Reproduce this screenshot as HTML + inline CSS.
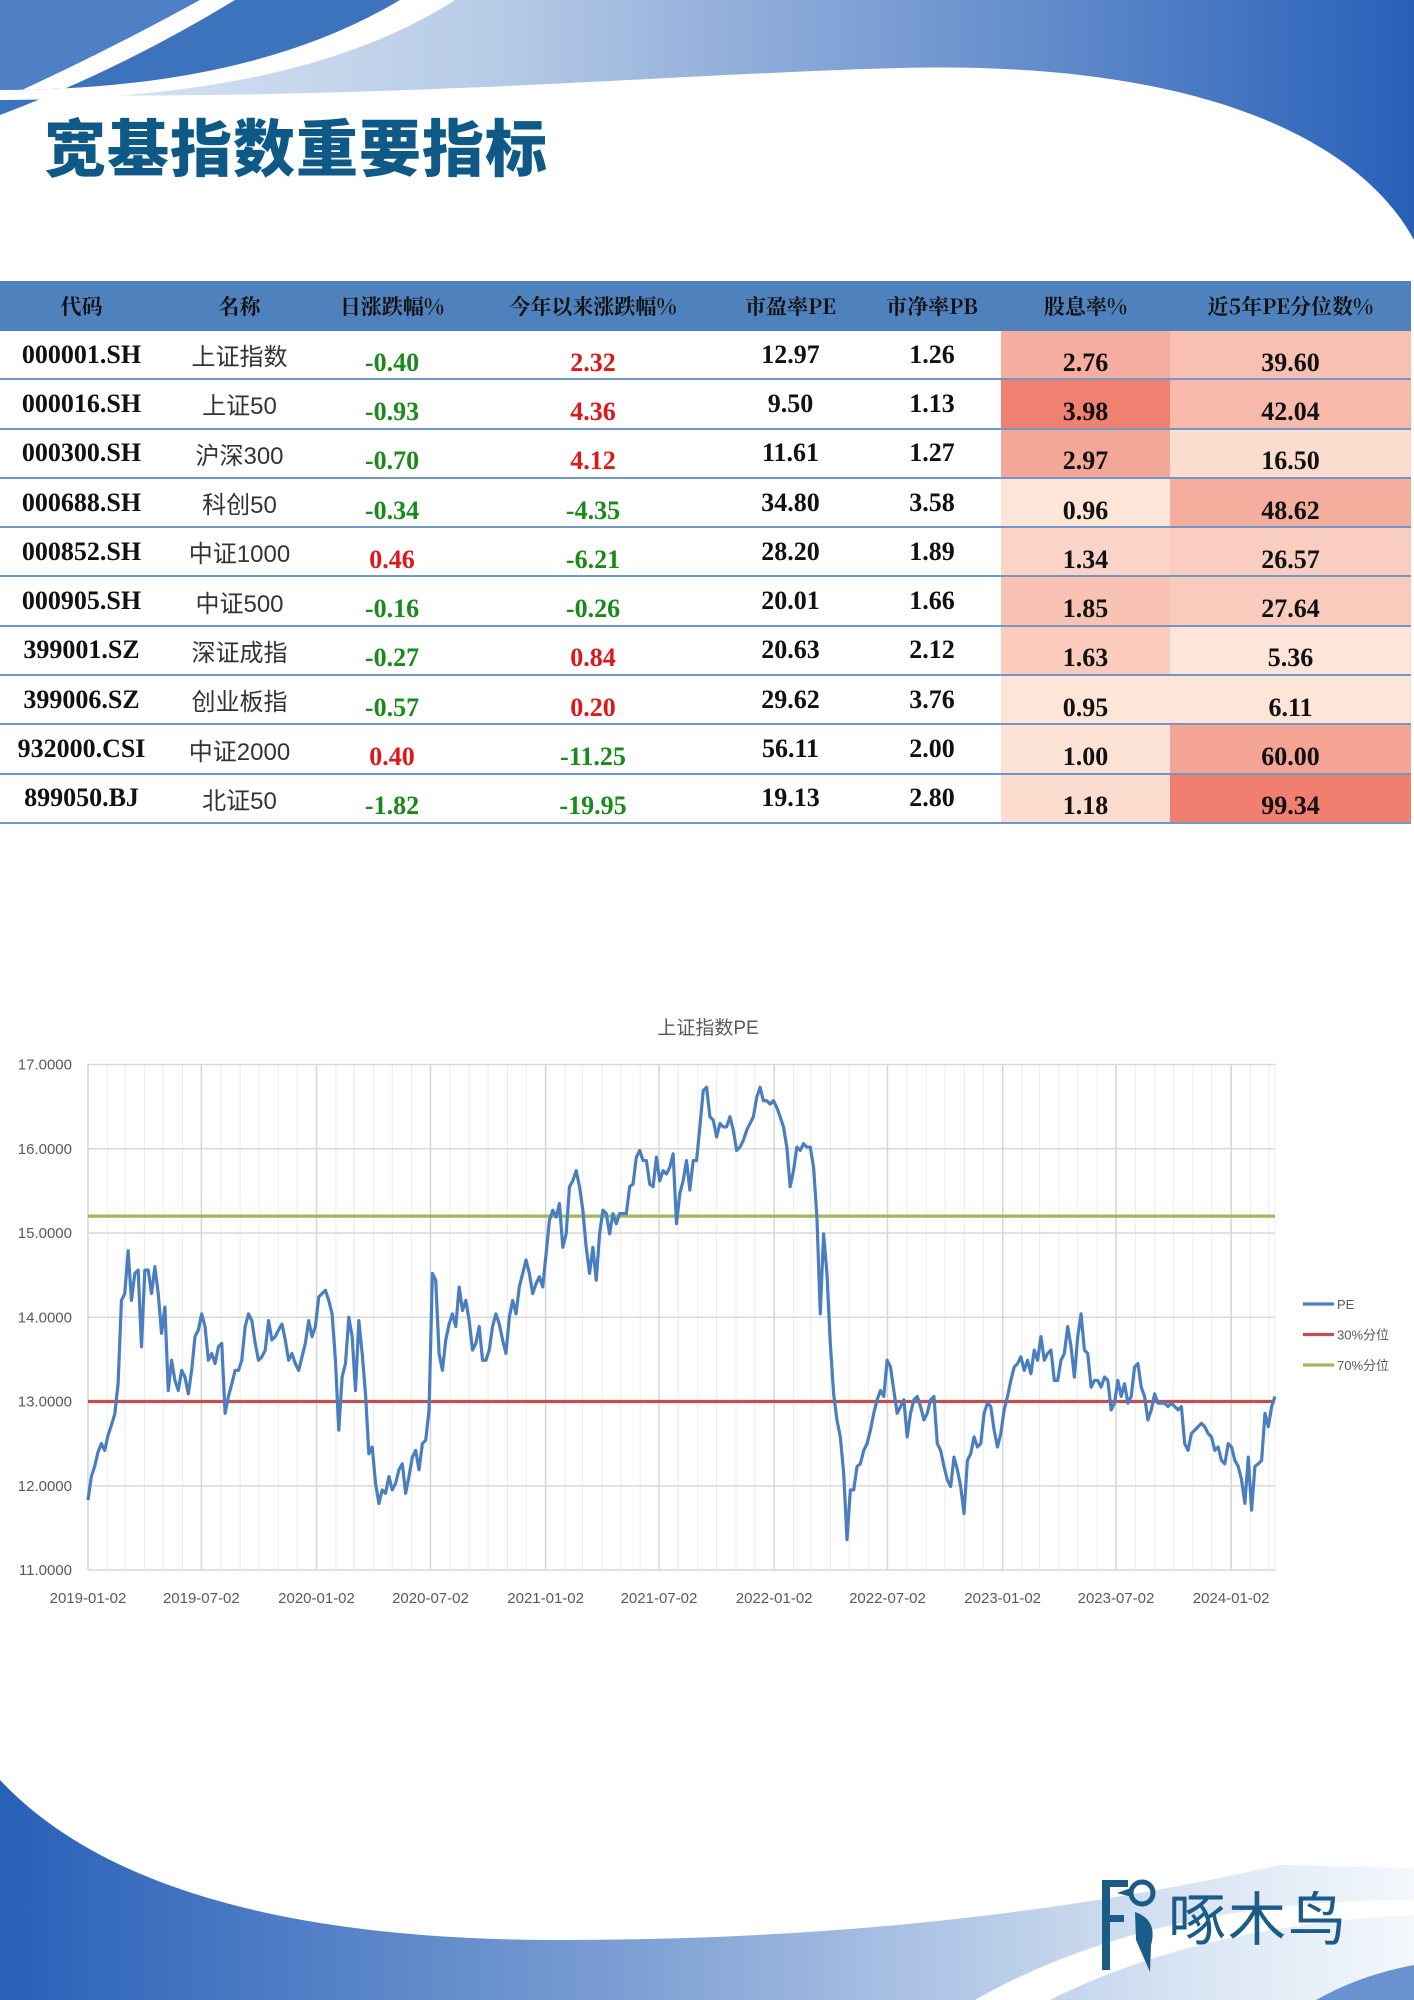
<!DOCTYPE html>
<html><head><meta charset="utf-8">
<style>
html,body{margin:0;padding:0;}
body{width:1414px;height:2000px;position:relative;overflow:hidden;background:#fff;font-family:"Liberation Sans","Noto Sans CJK SC",sans-serif;}
#bg{position:absolute;left:0;top:0;}
#title{position:absolute;left:44px;top:104px;font-family:"Noto Sans CJK SC",sans-serif;font-weight:900;font-size:62px;color:#0f5987;letter-spacing:1px;line-height:80px;white-space:nowrap;}
#tbl{position:absolute;left:0;top:281px;border-collapse:collapse;table-layout:fixed;width:1411px;}
#tbl th{background:#4f81bd;height:50px;padding:0;font-family:"Noto Serif CJK SC",serif;font-weight:700;font-size:21px;color:#111;text-align:center;}
#tbl td{height:47.3px;padding:0;text-align:center;border-bottom:2px solid #7196c8;font-family:"Liberation Serif",serif;font-weight:700;font-size:26px;color:#111;vertical-align:middle;}
#tbl td.nm{font-family:"Liberation Sans","Noto Sans CJK SC",sans-serif;font-weight:400;font-size:24px;color:#333;}
#tbl td.lo{padding-top:16px;height:31.3px;}
#tbl td.g{color:#1a8a1a;} #tbl td.r{color:#e0161b;}
#chart{position:absolute;left:0;top:0;}
#logo-text{position:absolute;left:1168px;top:1880px;font-family:"Noto Sans CJK SC",sans-serif;font-size:58px;color:#1b5b87;line-height:70px;letter-spacing:2px;}
</style></head>
<body>
<svg id="bg" width="1414" height="2000">
<defs>
<linearGradient id="tg" x1="0" x2="1" y1="0" y2="0">
<stop offset="0" stop-color="#dfe8f5"/><stop offset="0.35" stop-color="#b7cbe7"/><stop offset="1" stop-color="#2860b8"/></linearGradient>
<linearGradient id="bgr" x1="0" x2="1" y1="0" y2="0">
<stop offset="0" stop-color="#2860b8"/><stop offset="0.45" stop-color="#7da0d4"/><stop offset="0.85" stop-color="#dbe6f4"/><stop offset="1" stop-color="#f4f8fc"/></linearGradient>
</defs>
<path d="M0,0 H1414 V240 C1360,140 1200,60 900,68 C650,75 400,100 0,95 Z" fill="url(#tg)"/>
<path d="M0,0 H200 Q100,60 0,110 Z" fill="#4f7fc4"/>
<path d="M200,0 H235 Q120,70 0,115 V100 Q100,55 200,0 Z" fill="#fff"/>
<path d="M235,0 H400 Q250,90 0,90 V115 Q120,70 235,0 Z" fill="#3d73bd"/>
<path d="M400,0 H455 Q300,100 0,100 V90 Q250,90 400,0 Z" fill="#fff"/>
<path d="M0,1780 Q150,1940 560,1940 Q950,1940 1280,1865 L1414,1868 V2000 H0 Z" fill="url(#bgr)"/>
<path d="M975,2000 Q1150,1900 1414,1900 V1915 Q1200,1925 1050,2000 Z" fill="#fff"/>
<path d="M1316,2000 Q1360,1975 1414,1965 V2000 Z" fill="#6a92cf"/>
<g fill="#1b5b87">
<rect x="1102" y="1880" width="8" height="90"/>
<rect x="1102" y="1880" width="26" height="7"/>
<rect x="1102" y="1915" width="22" height="7"/>
<circle cx="1142" cy="1893" r="11" fill="none" stroke="#1b5b87" stroke-width="5"/>
<path d="M1131,1888 L1117,1893 L1132,1897 Z"/>
<path d="M1135,1912 Q1158,1920 1151,1945 L1150,1972 L1136,1940 Z"/>
</g>
</svg>
<div id="title">宽基指数重要指标</div>

<table id="tbl">
<colgroup><col style="width:163px"><col style="width:153px"><col style="width:152px"><col style="width:250px"><col style="width:145px"><col style="width:138px"><col style="width:169px"><col style="width:241px"></colgroup>
<thead><tr>
<th>代码</th><th>名称</th><th>日涨跌幅%</th><th>今年以来涨跌幅%</th><th>市盈率PE</th><th>市净率PB</th><th>股息率%</th><th>近5年PE分位数%</th>
</tr></thead>
<tbody>
<tr><td>000001.SH</td><td class="nm">上证指数</td><td class="lo g">-0.40</td><td class="lo r">2.32</td><td>12.97</td><td>1.26</td><td class="lo" style="background:#f4ad9e">2.76</td><td class="lo" style="background:#f8c0b1">39.60</td></tr>
<tr><td>000016.SH</td><td class="nm">上证50</td><td class="lo g">-0.93</td><td class="lo r">4.36</td><td>9.50</td><td>1.13</td><td class="lo" style="background:#f08171">3.98</td><td class="lo" style="background:#f7b9a9">42.04</td></tr>
<tr><td>000300.SH</td><td class="nm">沪深300</td><td class="lo g">-0.70</td><td class="lo r">4.12</td><td>11.61</td><td>1.27</td><td class="lo" style="background:#f3a796">2.97</td><td class="lo" style="background:#fcdccf">16.50</td></tr>
<tr><td>000688.SH</td><td class="nm">科创50</td><td class="lo g">-0.34</td><td class="lo g">-4.35</td><td>34.80</td><td>3.58</td><td class="lo" style="background:#fde5d8">0.96</td><td class="lo" style="background:#f5ae9d">48.62</td></tr>
<tr><td>000852.SH</td><td class="nm">中证1000</td><td class="lo r">0.46</td><td class="lo g">-6.21</td><td>28.20</td><td>1.89</td><td class="lo" style="background:#fbd4c7">1.34</td><td class="lo" style="background:#f9cdbf">26.57</td></tr>
<tr><td>000905.SH</td><td class="nm">中证500</td><td class="lo g">-0.16</td><td class="lo g">-0.26</td><td>20.01</td><td>1.66</td><td class="lo" style="background:#f9c3b4">1.85</td><td class="lo" style="background:#f9cbbd">27.64</td></tr>
<tr><td>399001.SZ</td><td class="nm">深证成指</td><td class="lo g">-0.27</td><td class="lo r">0.84</td><td>20.63</td><td>2.12</td><td class="lo" style="background:#fbcbbc">1.63</td><td class="lo" style="background:#fde6d9">5.36</td></tr>
<tr><td>399006.SZ</td><td class="nm">创业板指</td><td class="lo g">-0.57</td><td class="lo r">0.20</td><td>29.62</td><td>3.76</td><td class="lo" style="background:#fde5d8">0.95</td><td class="lo" style="background:#fde5d8">6.11</td></tr>
<tr><td>932000.CSI</td><td class="nm">中证2000</td><td class="lo r">0.40</td><td class="lo g">-11.25</td><td>56.11</td><td>2.00</td><td class="lo" style="background:#fde3d6">1.00</td><td class="lo" style="background:#f4a494">60.00</td></tr>
<tr><td>899050.BJ</td><td class="nm">北证50</td><td class="lo g">-1.82</td><td class="lo g">-19.95</td><td>19.13</td><td>2.80</td><td class="lo" style="background:#fcdccf">1.18</td><td class="lo" style="background:#f07f6f">99.34</td></tr>
</tbody></table>

<svg id="chart" width="1414" height="2000"></svg>
<div id="logo-text">啄木鸟</div>

<script>
const startDate = '2019-01-02';
const endDate = '2024-03-12';
const peValues = [
11.83,12.11,12.23,12.40,12.50,12.42,12.60,12.72,12.85,13.21,14.20,14.28,14.79,14.20,14.52,14.56,13.65,14.56,14.56,14.28,14.60,14.28,13.81,14.12,13.13,13.49,13.25,13.13,13.37,13.29,13.09,13.37,13.77,13.85,14.04,13.89,13.49,13.57,13.45,13.65,13.69,12.86,13.06,13.21,13.37,13.37,13.49,13.89,14.04,13.96,13.69,13.49,13.53,13.61,13.96,13.73,13.77,13.85,13.92,13.73,13.49,13.57,13.45,13.37,13.53,13.69,13.96,13.77,13.89,14.24,14.28,14.32,14.20,14.04,13.49,12.66,13.29,13.45,14.00,13.77,13.13,13.96,13.57,13.09,12.38,12.46,12.03,11.79,11.95,11.91,12.11,11.95,
12.03,12.19,12.26,11.91,12.11,12.34,12.42,12.19,12.50,12.54,12.90,14.52,14.44,13.57,13.37,13.73,13.92,14.04,13.89,14.36,14.08,14.20,13.96,13.61,13.69,13.89,13.49,13.49,13.61,13.89,14.04,13.92,13.73,13.57,14.00,14.20,14.04,14.36,14.52,14.68,14.52,14.28,14.40,14.48,14.36,14.75,15.15,15.27,15.19,15.35,14.83,14.99,15.55,15.62,15.74,15.55,15.27,14.83,14.52,14.83,14.44,14.99,15.27,15.23,14.99,15.23,15.11,15.23,15.23,15.23,15.55,15.58,15.90,15.98,15.86,15.86,15.58,15.55,15.90,15.62,15.74,15.70,15.78,15.94,15.11,15.47,15.62,15.86,15.51,15.86,
15.86,16.26,16.69,16.73,16.38,16.34,16.14,16.30,16.26,16.26,16.38,16.22,15.98,16.02,16.10,16.22,16.30,16.38,16.61,16.73,16.57,16.57,16.53,16.57,16.49,16.38,16.26,16.02,15.55,15.74,16.02,15.98,16.06,16.02,16.02,15.78,15.19,14.04,14.99,14.52,13.69,13.09,12.78,12.58,12.15,11.36,11.95,11.95,12.23,12.26,12.42,12.50,12.66,12.86,13.02,13.13,13.06,13.49,13.41,13.13,12.86,12.94,13.02,12.58,12.86,13.02,13.06,12.94,12.78,12.86,13.02,13.06,12.50,12.42,12.23,12.07,11.99,12.34,12.19,11.99,11.67,12.30,12.38,12.58,12.46,12.50,12.86,12.98,12.94,12.66,
12.46,12.62,12.90,13.06,13.25,13.41,13.45,13.53,13.37,13.49,13.33,13.61,13.49,13.77,13.49,13.57,13.61,13.25,13.25,13.49,13.57,13.89,13.65,13.29,13.77,14.04,13.61,13.57,13.17,13.25,13.25,13.17,13.29,13.25,12.90,12.98,13.25,13.06,13.21,12.98,13.06,13.41,13.45,13.17,13.06,12.78,12.90,13.09,12.98,12.98,12.98,12.94,12.98,12.94,12.90,12.94,12.50,12.42,12.62,12.66,12.70,12.74,12.70,12.62,12.58,12.42,12.46,12.30,12.26,12.50,12.46,12.30,12.23,12.07,11.79,12.34,11.71,12.23,12.26,12.30,12.86,12.70,12.94,13.06
];
const pct30 = [13.0];
const pct70 = [15.2];
const yTicks = [11, 12, 13, 14, 15, 16, 17];
const xTickLabels = ['2019-01-02','2019-07-02','2020-01-02','2020-07-02','2021-01-02','2021-07-02','2022-01-02','2022-07-02','2023-01-02','2023-07-02','2024-01-02'];
const legendLabels = ['PE','30%分位','70%分位'];

const NS = 'http://www.w3.org/2000/svg';
const svg = document.getElementById('chart');
const L = 88, R = 1275, T = 1064.5, B = 1570;
const d0 = Date.parse(startDate), d1 = Date.parse(endDate);
function xScale(t){ return L + (t - d0) / (d1 - d0) * (R - L); }
function yScale(v){ return B - (v - 11) / (17 - 11) * (B - T); }
function mk(tag, attrs){ const e = document.createElementNS(NS, tag); for (const k in attrs) e.setAttribute(k, attrs[k]); svg.appendChild(e); return e; }

for (let y = 2019; y <= 2024; y++) for (let m = 0; m < 12; m++) {
  const t = Date.UTC(y, m, 2); if (t < d0 || t > d1) continue;
  const x = xScale(t);
  const major = (m % 6 === 0);
  const g = mk('line', {x1:x, x2:x, y1:T, y2:B, stroke: major ? '#d6d6d6' : '#ececec', 'stroke-width': major ? 1.5 : 1});
  
  
}
mk('line',{x1:R,x2:R,y1:T,y2:B,stroke:'#ececec'});
yTicks.forEach(v => {
  const y = yScale(v);
  const g = mk('line', {x1:L, x2:R, y1:y, y2:y, stroke:'#d9d9d9', 'stroke-width':1.5});
  
  
  const t = mk('text', {x:72, y:y+5, 'text-anchor':'end', 'font-size':15, fill:'#595959', 'font-family':'Liberation Sans, sans-serif'});
  t.textContent = v.toFixed(4);
  
  
});
mk('line',{x1:L,x2:L,y1:T,y2:B,stroke:'#d9d9d9','stroke-width':1.5});
xTickLabels.forEach(s => {
  const x = xScale(Date.parse(s));
  const t = mk('text', {x:x, y:1603, 'text-anchor':'middle', 'font-size':15, fill:'#595959', 'font-family':'Liberation Sans, sans-serif'});
  t.textContent = s;
  
  
});
const l30 = mk('line', {x1:L, x2:R, y1:yScale(pct30[0]), y2:yScale(pct30[0]), stroke:'#c0504d', 'stroke-width':3.2});


const l70 = mk('line', {x1:L, x2:R, y1:yScale(pct70[0]), y2:yScale(pct70[0]), stroke:'#9bbb59', 'stroke-width':3.2});


const n = peValues.length;
let dstr = '';
peValues.forEach((v, i) => {
  const t = d0 + (d1 - d0) * i / (n - 1);
  dstr += (i ? 'L' : 'M') + xScale(t).toFixed(2) + ',' + yScale(v).toFixed(2);
});
const pe = mk('path', {d:dstr, fill:'none', stroke:'#4a7ebf', 'stroke-width':3.2, 'stroke-linejoin':'round'});


const ttl = mk('text', {x:708, y:1034, 'text-anchor':'middle', 'font-size':19, fill:'#595959', 'font-family':'Liberation Sans, Noto Sans CJK SC, sans-serif'});
ttl.textContent = '上证指数PE';


const legColors = ['#4a7ebf', '#c0504d', '#9bbb59'];
legendLabels.forEach((s, i) => {
  const y = 1304 + i * 30.5;
  const ln = mk('line', {x1:1303, x2:1334, y1:y, y2:y, stroke:legColors[i], 'stroke-width':3.2});
  
  
  const t = mk('text', {x:1337, y:y+5, 'font-size':13, fill:'#595959', 'font-family':'Liberation Sans, Noto Sans CJK SC, sans-serif'});
  t.textContent = s;
  
  
});
</script>
</body></html>
